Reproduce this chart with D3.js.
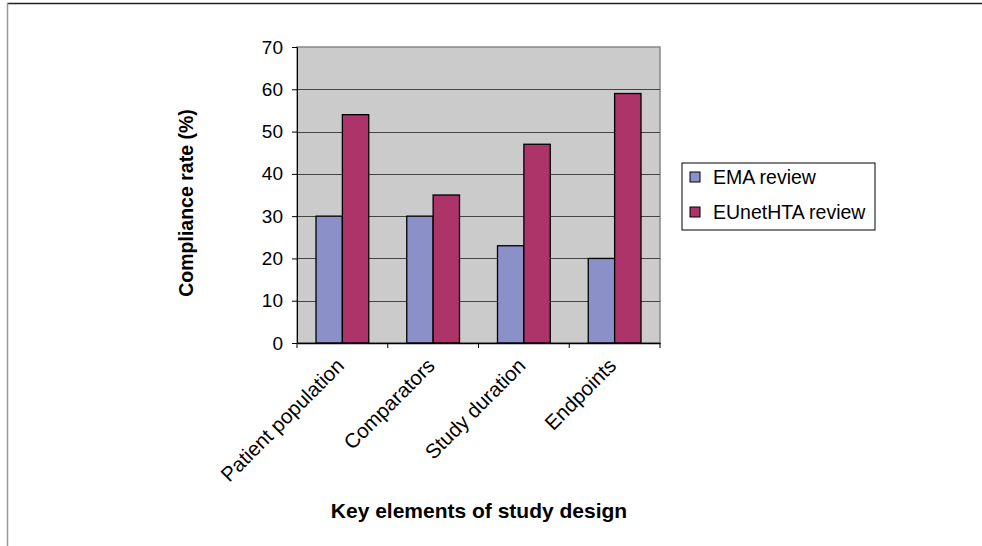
<!DOCTYPE html>
<html>
<head>
<meta charset="utf-8">
<script src="https://cdn.jsdelivr.net/npm/d3@7"></script>
<style>
body { margin: 0; background: #fff; }
svg { display: block; font-family: "Liberation Sans", Arial, sans-serif; }
</style>
</head>
<body>
<svg></svg>
<script>
// chart size
var width = 982;
var height = 546;

// data
var categories = ["Patient population", "Comparators", "Study duration", "Endpoints"];
var seriesNames = ["EMA review", "EUnetHTA review"];
var emaValues = [30, 30, 23, 20];
var eunetValues = [54, 35, 47, 59];
var yTicks = [0, 10, 20, 30, 40, 50, 60, 70];
var colors = ["#8b90c8", "#ad3468"];

var plot = {left: 297, right: 660, top: 47, bottom: 343};

var svg = d3.select("svg")
    .attr("width", width)
    .attr("height", height);

// outer frame (top + left edges visible)
svg.append("line")
    .attr("x1", 7).attr("x2", width).attr("y1", 3.5).attr("y2", 3.5)
    .style("stroke", "#222").style("stroke-width", 1.5);
svg.append("line")
    .attr("x1", 7.5).attr("x2", 7.5).attr("y1", 3).attr("y2", height)
    .style("stroke", "#999").style("stroke-width", 1.5);

var x0 = d3.scaleBand()
    .domain(categories)
    .range([plot.left, plot.right])
    .paddingInner(0)
    .paddingOuter(0);

var x1 = d3.scaleBand()
    .domain(seriesNames)
    .range([19, x0.bandwidth() - 19]);

var y = d3.scaleLinear()
    .domain([0, 70])
    .range([plot.bottom, plot.top]);

// plot background
svg.append("rect")
    .attr("x", plot.left)
    .attr("y", plot.top)
    .attr("width", plot.right - plot.left)
    .attr("height", plot.bottom - plot.top)
    .style("fill", "#cacbca")
    .style("stroke", "#888")
    .style("stroke-width", 1.5);

// gridlines
svg.selectAll(".grid")
    .data(yTicks.slice(1, -1))
    .enter().append("line")
    .attr("class", "grid")
    .attr("x1", plot.left).attr("x2", plot.right)
    .attr("y1", function(d) { return Math.round(y(d)) + 0.5; })
    .attr("y2", function(d) { return Math.round(y(d)) + 0.5; })
    .style("stroke", "#444")
    .style("stroke-width", 1);

// bars
var rows = categories.map(function(c, i) {
    return {cat: c, vals: [emaValues[i], eunetValues[i]]};
});

var groups = svg.selectAll(".grp")
    .data(rows)
    .enter().append("g")
    .attr("class", "grp")
    .attr("transform", function(d) { return "translate(" + x0(d.cat) + ",0)"; });

groups.selectAll("rect")
    .data(function(d) { return d.vals.map(function(v, j) { return {name: seriesNames[j], v: v, j: j}; }); })
    .enter().append("rect")
    .attr("x", function(d) { return x1(d.name); })
    .attr("y", function(d) { return y(d.v); })
    .attr("width", x1.bandwidth())
    .attr("height", function(d) { return y(0) - y(d.v); })
    .style("fill", function(d) { return colors[d.j]; })
    .style("stroke", "#000")
    .style("stroke-width", 1.3);

// y axis
var yAxis = d3.axisLeft(y)
    .tickValues(yTicks)
    .tickSize(5)
    .tickPadding(9);

var gy = svg.append("g")
    .attr("transform", "translate(" + plot.left + ",0)")
    .call(yAxis);
gy.select(".domain").style("stroke", "#000");
gy.selectAll("line").style("stroke", "#000");
gy.selectAll("text")
    .style("font-size", "19px")
    .style("fill", "#000");

// x axis baseline + ticks
var xAxis = d3.axisBottom(x0)
    .tickValues([])
    .tickSizeOuter(0);
var gx = svg.append("g")
    .attr("transform", "translate(0," + plot.bottom + ")")
    .call(xAxis);
gx.select(".domain").style("stroke", "#000").style("stroke-width", 1.5);

gx.selectAll(".tk")
    .data(categories.concat(["end"]))
    .enter().append("line")
    .attr("class", "tk")
    .attr("x1", function(d, i) { return i < categories.length ? x0(d) : plot.right; })
    .attr("x2", function(d, i) { return i < categories.length ? x0(d) : plot.right; })
    .attr("y1", 0).attr("y2", 5)
    .style("stroke", "#000");

// rotated category labels
svg.selectAll(".catlabel")
    .data(categories)
    .enter().append("text")
    .attr("class", "catlabel")
    .attr("text-anchor", "end")
    .attr("transform", function(d) {
        var cx = x0(d) + x0.bandwidth() / 2 + 3;
        return "translate(" + cx + "," + (plot.bottom + 24) + ") rotate(-45)";
    })
    .style("font-size", "20.5px")
    .style("fill", "#000")
    .text(function(d) { return d; });

// axis titles
svg.append("text")
    .attr("transform", "translate(193," + ((plot.top + plot.bottom) / 2 + 8) + ") rotate(-90)")
    .attr("text-anchor", "middle")
    .style("font-size", "19.5px")
    .style("font-weight", "bold")
    .text("Compliance rate (%)");

svg.append("text")
    .attr("x", 479)
    .attr("y", 518)
    .attr("text-anchor", "middle")
    .style("font-size", "21px")
    .style("font-weight", "bold")
    .text("Key elements of study design");

// legend
var legend = svg.append("g")
    .attr("transform", "translate(682,163)");

legend.append("rect")
    .attr("width", 193)
    .attr("height", 67)
    .style("fill", "#fff")
    .style("stroke", "#000")
    .style("stroke-width", 1);

var items = legend.selectAll(".item")
    .data(seriesNames)
    .enter().append("g")
    .attr("class", "item")
    .attr("transform", function(d, i) { return "translate(0," + (15 + i * 35) + ")"; });

items.append("rect")
    .attr("x", 8).attr("y", -6)
    .attr("width", 10).attr("height", 10)
    .style("fill", function(d, i) { return colors[i]; })
    .style("stroke", "#000")
    .style("stroke-width", 1);

items.append("text")
    .attr("x", 31)
    .attr("y", 6)
    .style("font-size", "19.5px")
    .text(function(d) { return d; });
</script>
</body>
</html>
